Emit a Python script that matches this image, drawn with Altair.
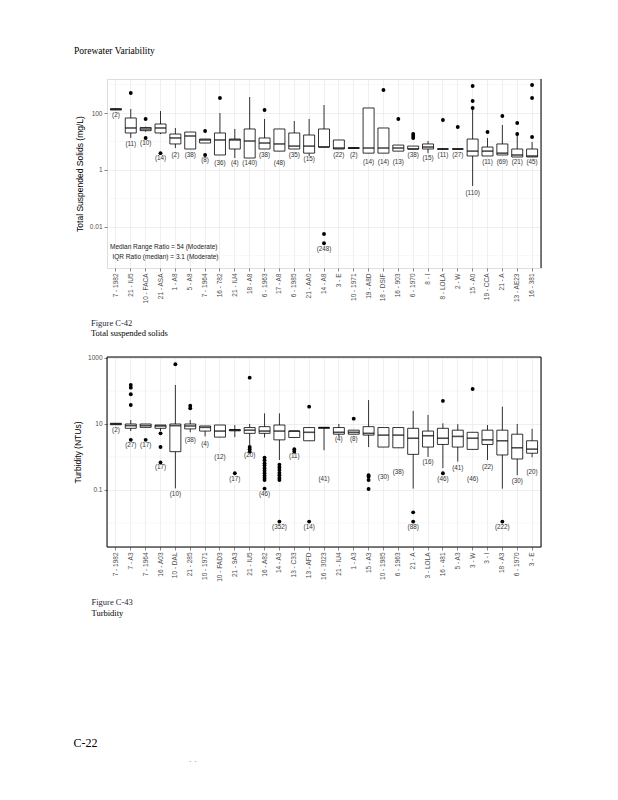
import altair as alt
import pandas as pd

# ---------------- Figure C-42 : Total suspended solids ----------------
tss_sites = ["7 - 1982", "21 - IU5", "10 - FACA", "21 - ASA", "1 - A8", "5 - A8", "7 - 1964",
             "16 - 782", "21 - IU4", "18 - A8", "6 - 1963", "17 - A8", "6 - 1985", "21 - AA0",
             "14 - A8", "3 - E", "10 - 1971", "19 - A8D", "18 - DSIF", "16 - 903", "6 - 1970",
             "8 - I", "8 - LOLA", "2 - W", "15 - A0", "19 - CCA", "21 - A", "13 - AE23", "16 - 381"]
tss_lower = [128, 13.3, 22, 18.3, 5.9, 5.45, 8.85, 3.36, 2.63, 2.63, 5.45, 4.6, 5.45, 3.1, 6.4,
             5.45, 5.7, 3.9, 3.9, 4.6, 5.45, 3.9, 5.45, 5.45, 0.275, 3.1, 3.36, 2.86, 2.86]
tss_q1 = [128, 19.9, 24, 19.9, 8.2, 5.45, 8.85, 3.36, 5.45, 2.63, 5.45, 4.6, 5.45, 3.9, 6.4,
          5.45, 5.7, 3.9, 3.9, 4.6, 5.45, 5.45, 5.45, 5.45, 3.1, 3.1, 3.36, 2.86, 2.86]
tss_median = [135, 29.8, 27.5, 29.8, 13.3, 15.6, 11.3, 11.3, 11.3, 10.4, 8.85, 8.2, 6.9, 6.9, 6.4,
              5.9, 5.9, 5.9, 5.9, 5.9, 5.45, 6.4, 5.45, 5.45, 4.6, 4.6, 3.9, 3.36, 3.1]
tss_q3 = [142, 66.8, 31, 41.1, 18.3, 21.5, 12.2, 19.9, 12.2, 27.5, 13.3, 27.5, 19.9, 16.9, 27.5,
          11.3, 6.1, 150, 29.8, 7.5, 6.9, 8.2, 5.45, 5.45, 12.2, 6.4, 8.2, 5.45, 5.45]
tss_upper = [142, 138, 33, 117, 29.8, 21.5, 12.2, 100, 27.5, 364, 61.6, 27.5, 52.4, 61.6, 191,
             11.3, 6.1, 150, 29.8, 7.5, 6.9, 10.4, 5.45, 5.45, 138, 13.3, 38, 19.9, 9.6]
tss_outliers = [[], [502], [61.6, 13.3], [3.9], [], [], [23.4, 3.36], [336], [], [], [127], [], [],
                [], [0.0057, 0.0027], [], [], [], [641], [61.6], [18.3, 15.6, 13.3], [], [56.8],
                [32.3], [886, 263, 150], [21.5], [78.5], [44.6, 18.3], [960, 336, 14.4]]
tss_counts = ["(2)", "(11)", "(10)", "(14)", "(2)", "(38)", "(8)", "(36)", "(4)", "(140)", "(38)",
              "(48)", "(35)", "(15)", "(248)", "(22)", "(2)", "(14)", "(14)", "(13)", "(38)",
              "(15)", "(11)", "(27)", "(110)", "(11)", "(69)", "(21)", "(45)"]
tss_label_y = [85, 8.2, 8.85, 2.63, 3.36, 3.36, 2.25, 1.77, 1.77, 1.77, 3.36, 1.77, 3.36, 2.4,
               0.0017, 3.36, 3.36, 1.9, 1.9, 1.9, 3.36, 2.63, 3.36, 3.36, 0.157, 1.9, 1.9, 1.9, 1.9]
tss_domain = [0.000364, 1560]
tss_major = [0.01, 1, 100]
tss_minor = [0.001, 0.1, 10, 1000]

# ---------------- Figure C-43 : Turbidity ----------------
turb_sites = ["7 - 1982", "7 - A3", "7 - 1964", "16 - A03", "10 - DAL", "21 - 285", "10 - 1971",
              "10 - FAD3", "21 - 9A3", "21 - IU5", "16 - A82", "14 - A3", "13 - C33", "13 - AFD",
              "16 - 3023", "21 - IU4", "1 - A3", "15 - A3", "10 - 1985", "6 - 1963", "21 - A",
              "3 - LOLA", "16 - 481", "5 - A3", "3 - W", "3 - I", "18 - A3", "6 - 1970", "3 - E"]
turb_lower = [9.5, 6.1, 7.9, 6.1, 0.112, 5.6, 4.2, 4.0, 4.0, 2.3, 3.9, 0.81, 3.9, 3.1, 1.6, 4.2,
              4.9, 2.0, 2.0, 1.9, 0.11, 1.0, 0.46, 0.72, 1.7, 0.81, 0.11, 0.28, 0.98]
turb_q1 = [9.5, 7.4, 7.9, 7.4, 1.45, 7.1, 6.1, 4.0, 6.2, 5.2, 5.2, 3.3, 3.9, 3.1, 7.4, 4.9, 4.9,
           4.6, 2.0, 1.9, 1.2, 2.0, 2.4, 2.0, 1.7, 2.4, 1.15, 0.87, 1.3]
turb_median = [10, 8.9, 8.9, 8.7, 8.9, 8.7, 7.9, 6.1, 6.5, 6.5, 6.1, 6.1, 6.1, 5.6, 7.8, 5.6, 5.6,
               5.2, 4.6, 4.6, 3.7, 4.4, 3.7, 4.2, 3.7, 3.3, 3.1, 1.9, 1.73]
turb_q3 = [10.5, 10, 10, 9.3, 10, 10, 8.7, 9.3, 6.8, 7.8, 8.3, 9.3, 6.1, 7.8, 7.8, 7.8, 6.5, 8.3,
           7.8, 7.8, 7.4, 6.1, 7.4, 6.5, 5.6, 6.5, 6.5, 4.9, 3.1]
turb_upper = [10.5, 13.2, 10, 9.3, 152, 13.2, 8.7, 9.3, 9.3, 10, 21, 21, 6.1, 7.8, 7.8, 10, 6.5,
              53, 7.8, 7.8, 25, 18.8, 10.5, 9.9, 5.6, 9.3, 33.5, 10, 7.1]
turb_outliers = [[], [152, 126, 79.6, 37.7, 3.3], [3.3], [5.2, 2.0, 0.68], [645], [36, 30], [], [],
                 [0.32], [254, 2.0, 1.73, 1.45],
                 [0.96, 0.8, 0.65, 0.55, 0.45, 0.38, 0.32, 0.27, 0.23, 0.2, 0.11],
                 [0.58, 0.48, 0.4, 0.33, 0.28, 0.23, 0.2, 0.011], [1.73, 1.45], [33.5, 0.011],
                 [], [], [14.5], [0.28, 0.25, 0.2, 0.107], [], [], [0.021, 0.011], [], [50, 0.32],
                 [], [115], [], [0.011], [], []]
turb_counts = ["(2)", "(27)", "(17)", "(17)", "(10)", "(38)", "(4)", "(12)", "(17)", "(20)", "(46)",
               "(352)", "(11)", "(14)", "(41)", "(4)", "(8)", "", "(30)", "(38)", "(88)", "(16)",
               "(46)", "(41)", "(46)", "(22)", "(222)", "(30)", "(20)"]
turb_label_y = [6.5, 2.3, 2.3, 0.49, 0.074, 3.3, 2.5, 1.0, 0.22, 1.15, 0.074, 0.0073, 1.1, 0.0073,
                0.22, 3.4, 3.4, 1.0, 0.25, 0.35, 0.0073, 0.71, 0.22, 0.45, 0.22, 0.51, 0.0073,
                0.187, 0.35]
turb_domain = [0.00187, 1072]
turb_major = [0.1, 10, 1000]
turb_minor = [0.01, 1, 100]

W = 434
SANS = "Liberation Sans"
SERIF = "Liberation Serif"
GRID = "#e4e4e4"


def note(text, x, y, size, font, color="black", align="left"):
    return alt.Chart(pd.DataFrame({"t": [text]})).mark_text(
        align=align, baseline="middle", fontSize=size, font=font, color=color
    ).encode(x=alt.value(x), y=alt.value(y), text="t:N")


def anchor(x, y):
    return alt.Chart(pd.DataFrame({"a": [0]})).mark_square(
        size=1, color="white", opacity=1
    ).encode(x=alt.value(x), y=alt.value(y))


def panel(sites, lower, q1, med, q3, upper, outliers, counts, label_y,
          domain, major, minor, ytitle, height):
    box = pd.DataFrame({"site": sites, "lower": lower, "q1": q1, "median": med,
                        "q3": q3, "upper": upper, "n": counts, "ly": label_y})
    out = pd.DataFrame([{"site": s, "value": v} for s, vals in zip(sites, outliers) for v in vals])
    grid = pd.DataFrame({"g": minor})

    xscale = alt.Scale(domain=sites, paddingInner=0, paddingOuter=0.1)
    xaxis = alt.Axis(title=None, labelAngle=270, labelFontSize=6.5, labelColor="#4d4d4d",
                     labelFont=SANS, tickSize=3, tickColor="#333333", tickWidth=0.6,
                     domain=False, grid=True, gridColor=GRID, gridWidth=0.6,
                     labelPadding=2, labelOverlap=False)
    yscale = alt.Scale(type="log", domain=domain, nice=False)
    yaxis = alt.Axis(title=ytitle, values=major, format="~g", labelFontSize=6.5,
                     labelColor="#4d4d4d", labelFont=SANS, tickSize=3, tickColor="#333333",
                     tickWidth=0.6, domain=False, grid=True, gridColor=GRID, gridWidth=0.6,
                     titleFont=SANS, titleFontSize=8.5, titleFontWeight="normal",
                     titleColor="black", titlePadding=5, labelPadding=2)

    def X():
        return alt.X("site:N", scale=xscale, axis=xaxis)

    def Y(field):
        return alt.Y(field, scale=yscale, axis=yaxis)

    minor_grid = alt.Chart(grid).mark_rule(color="#f0f0f0", strokeWidth=0.5).encode(y=Y("g:Q"))
    whisk = alt.Chart(box).mark_rule(color="black", strokeWidth=0.8).encode(
        x=X(), y=Y("lower:Q"), y2="upper:Q")
    bars = alt.Chart(box).mark_bar(size=11, fill="white", stroke="black", strokeWidth=0.8).encode(
        x=X(), y=Y("q1:Q"), y2="q3:Q")
    meds = alt.Chart(box).mark_tick(size=11, thickness=1.6, color="black").encode(
        x=X(), y=Y("median:Q"))
    pts = alt.Chart(out).mark_circle(size=15, color="black", opacity=1).encode(
        x=X(), y=Y("value:Q"))
    labels = alt.Chart(box).mark_text(fontSize=6.3, font=SANS, color="#333333",
                                      baseline="middle").encode(
        x=X(), y=Y("ly:Q"), text="n:N")
    return [minor_grid, whisk, bars, meds, pts, labels]


H1 = 189
top_layers = panel(tss_sites, tss_lower, tss_q1, tss_median, tss_q3, tss_upper, tss_outliers,
                   tss_counts, tss_label_y, tss_domain, tss_major, tss_minor,
                   "Total Suspended Solids (mg/L)", H1)
right_line = alt.Chart(pd.DataFrame({"a": [0]})).mark_rule(color="black", strokeWidth=1).encode(
    x=alt.value(W), y=alt.value(0), y2=alt.value(H1))
top = alt.layer(
    *top_layers,
    right_line,
    note("Median Range Ratio = 54 (Moderate)", 3, 167.5, 6.5, SANS, "#222222"),
    note("IQR Ratio (median) = 3.1 (Moderate)", 5.5, 177.5, 6.5, SANS, "#222222"),
    note("Porewater Variability", -33, -28.5, 9.5, SERIF),
    note("Figure C-42", -16, 243.5, 8.5, SERIF, "#1a1f3a"),
    note("Total suspended solids", -16, 253.5, 8.5, SERIF),
    anchor(-98, -70),
    anchor(-98, 262),
).properties(width=W, height=H1)

H2 = 190
bot_layers = panel(turb_sites, turb_lower, turb_q1, turb_median, turb_q3, turb_upper,
                   turb_outliers, turb_counts, turb_label_y, turb_domain, turb_major, turb_minor,
                   "Turbidity (NTUs)", H2)
border = alt.Chart(pd.DataFrame({"a": [0]})).mark_rect(
    fillOpacity=0, stroke="black", strokeWidth=1).encode(
    x=alt.value(0), x2=alt.value(W), y=alt.value(0), y2=alt.value(H2))
bottom = alt.layer(
    *bot_layers,
    border,
    note("Figure C-43", -15.5, 244.5, 8.5, SERIF, "#1a1f3a"),
    note("Turbidity", -15.5, 255.5, 8.5, SERIF),
    note("C-22", -33.5, 386, 12, SERIF),
    note(".  .", 82, 402, 9, SANS, "#999999"),
    anchor(-98, -14),
).properties(width=W, height=H2)

chart = alt.vconcat(top, bottom, spacing=0).resolve_scale(
    x="independent", y="independent"
).properties(padding=0).configure_view(strokeWidth=0).configure(background="white")

chart.save("out.html", embed_options={"renderer": "svg", "actions": False})
